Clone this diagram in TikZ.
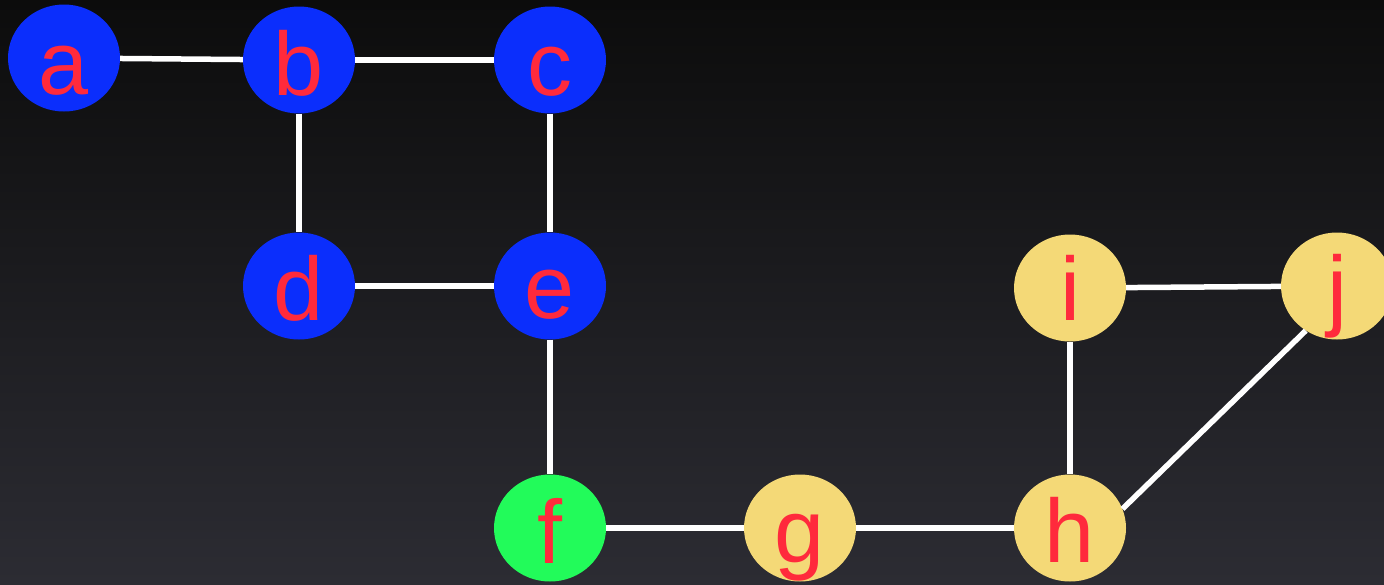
\documentclass[tikz,border=0pt]{standalone}
\usepackage{fontspec}
\setmainfont{Liberation Sans}
\usetikzlibrary{shapes.geometric}
\definecolor{vblue}{HTML}{0B2EFC}
\definecolor{vgreen}{HTML}{22FB5A}
\definecolor{vyellow}{HTML}{F4D977}
\definecolor{vred}{HTML}{FF2A3C}
\definecolor{bgtop}{HTML}{0C0C0C}
\definecolor{bgbot}{HTML}{2C2C33}
\tikzset{
  vert/.style={ellipse, minimum width=112pt, minimum height=107pt, inner sep=0pt},
  bluev/.style={vert, fill=vblue},
  greenv/.style={vert, fill=vgreen},
  yellowv/.style={vert, fill=vyellow},
  lbl/.style={anchor=base, text=vred, font=\fontsize{90}{90}\selectfont, inner sep=0pt},
  edge/.style={draw=white, line width=5.5pt}
}
\begin{document}
\begin{tikzpicture}[x=1pt,y=-1pt]
\shade[top color=bgtop, bottom color=bgbot] (0,0) rectangle (1384,584);
\useasboundingbox (0,0) rectangle (1384,584);
\node[bluev] (a) at (64,58) {};
\node[bluev] (b) at (299,60) {};
\node[bluev] (c) at (550,60) {};
\node[bluev] (d) at (299,286) {};
\node[bluev] (e) at (550,286) {};
\node[greenv] (f) at (550,528) {};
\node[yellowv] (g) at (800,528) {};
\node[yellowv] (h) at (1070,528) {};
\node[yellowv] (i) at (1070,288) {};
\node[yellowv] (j) at (1337,286) {};
\path[edge] (a) -- (b);
\path[edge] (b) -- (c);
\path[edge] (b) -- (d);
\path[edge] (c) -- (e);
\path[edge] (d) -- (e);
\path[edge] (e) -- (f);
\path[edge] (f) -- (g);
\path[edge] (g) -- (h);
\path[edge] (h) -- (i);
\path[edge] (i) -- (j);
\path[edge] (h.20) -- (j.235);
\node[lbl] (la) at ([yshift=-36pt]a.center) {a};
\node[lbl] (lb) at ([yshift=-35pt]b.center) {b};
\node[lbl] (lc) at ([yshift=-35pt]c.center) {c};
\node[lbl] (ld) at ([yshift=-34pt]d.center) {d};
\node[lbl] (le) at ([yshift=-32pt]e.center) {e};
\node[lbl] (lf) at ([yshift=-35pt]f.center) {f};
\node[lbl] (lg) at ([yshift=-34pt]g.center) {g};
\node[lbl] (lh) at ([yshift=-34pt]h.center) {h};
\node[lbl] (li) at ([yshift=-32pt]i.center) {i};
\node[lbl] (lj) at ([yshift=-33pt]j.center) {j};
\end{tikzpicture}
\end{document}
